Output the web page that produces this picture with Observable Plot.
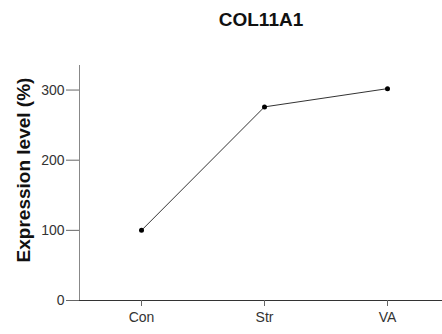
<!DOCTYPE html>
<html><head><meta charset="utf-8">
<script src="https://cdn.jsdelivr.net/npm/d3@7"></script>
<script src="https://cdn.jsdelivr.net/npm/@observablehq/plot@0.6"></script>
<style>body{margin:0;background:#fff;} svg{font-family:"Liberation Sans",Arial,sans-serif;}</style>
</head><body><div id="chart"></div>
<script>
const groups = ["Con", "Str", "VA"];
const values = [100, 276, 302];
const yTicks = [0, 100, 200, 300];
const title = "COL11A1";
const yLabel = "Expression level (%)";
const data = groups.map((g, i) => ({group: g, value: values[i]}));

const chart = Plot.plot({
  width: 442, height: 334,
  marginLeft: 79, marginRight: 0, marginTop: 65, marginBottom: 34,
  style: {fontFamily: "Liberation Sans, Arial, sans-serif", background: "#fff"},
  x: {type: "point", domain: groups, range: [141, 387], padding: 0, label: null},
  y: {domain: [0, 335], label: null},
  marks: [
    Plot.frame({anchor: "left", stroke: "#888", strokeWidth: 1, strokeDasharray: "1,1"}),
    Plot.ruleY([0], {stroke: "#333", strokeWidth: 1}),
    Plot.axisY({ticks: yTicks, tickSize: 13, tickPadding: 2, fontSize: 14, fill: "#333", stroke: "#666", label: null}),
    Plot.axisX({tickSize: 6, tickPadding: 6, fontSize: 14, fill: "#333", stroke: "#666", label: null}),
    Plot.line(data, {x: "group", y: "value", stroke: "#333", strokeWidth: 1}),
    Plot.dot(data, {x: "group", y: "value", r: 2.5, fill: "#000"}),
    Plot.text([title], {frameAnchor: "top", dy: -53, fontSize: 19, fontWeight: "bold", fill: "#111", style: "letter-spacing:0.5px"}),
    Plot.text([yLabel], {frameAnchor: "left", textAnchor: "middle", dx: -56, dy: -13, rotate: -90, fontSize: 19, fontWeight: "bold", fill: "#111"})
  ]
});
document.getElementById("chart").append(chart);
</script>
</body></html>
